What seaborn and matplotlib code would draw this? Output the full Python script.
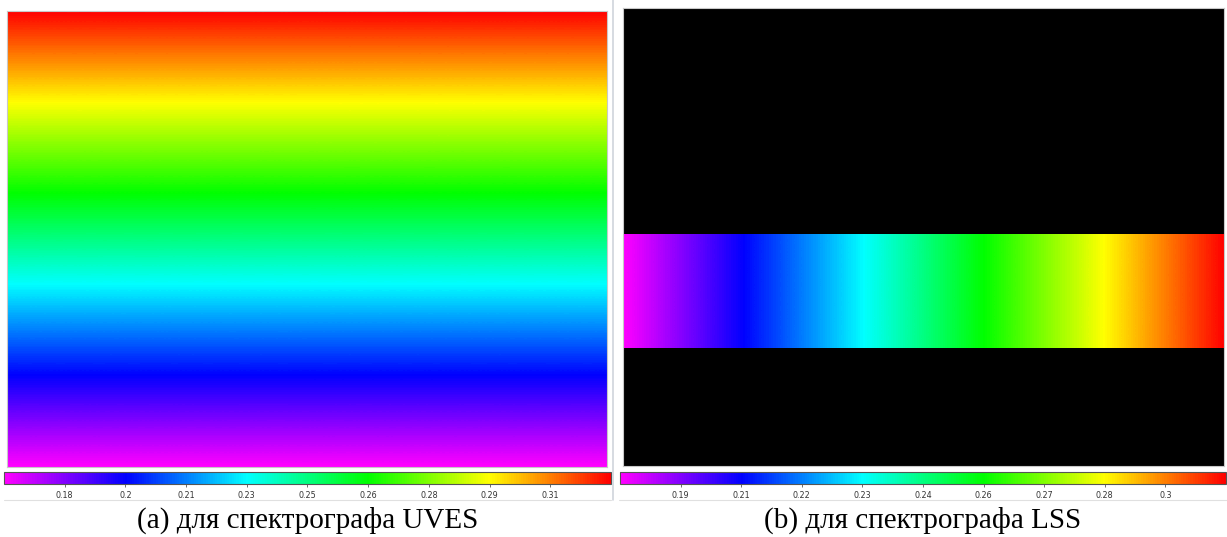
import numpy as np
import matplotlib.pyplot as plt
import seaborn as sns
from matplotlib.lines import Line2D
from matplotlib.ticker import FuncFormatter

# UVES frame: values along the slit, top row to bottom row
uves_values = [0.326, 0.306, 0.286, 0.266, 0.246, 0.226, 0.206, 0.186, 0.166]
uves_range = (0.166, 0.326)

# LSS frame: values along dispersion, left to right, only inside the slit
lss_values = [0.1795, 0.1925, 0.2055, 0.2185, 0.2315, 0.2445,
              0.2575, 0.2705, 0.2835, 0.2965, 0.3095]
lss_range = (0.1795, 0.3095)
lss_rows = 200
lss_slit = (98, 149)

captions = ['(a) для спектрографа UVES', '(b) для спектрографа LSS']
rainbow = ['#ff00ff', '#0000ff', '#00ffff', '#00ff00', '#ffff00', '#ff0000']

sns.set_theme(style='white')
plt.rcParams['font.family'] = ['DejaVu Sans']

cmap = sns.blend_palette(rainbow, n_colors=256, as_cmap=True)
cmap.set_bad('black')

fig = plt.figure(figsize=(12.27, 5.37), dpi=100)

# panel axes: [left, bottom, width, height]
ax_a = fig.add_axes([7 / 1227, 1 - 467 / 537, 600 / 1227, 456 / 537])
ax_b = fig.add_axes([623 / 1227, 1 - 466 / 537, 601 / 1227, 458 / 537])
cax_a = fig.add_axes([4 / 1227, 1 - 484 / 537, 607 / 1227, 12 / 537])
cax_b = fig.add_axes([620 / 1227, 1 - 484 / 537, 606 / 1227, 12 / 537])

uves_frame = np.array(uves_values).reshape(-1, 1)
im_a = ax_a.imshow(uves_frame, cmap=cmap, vmin=uves_range[0], vmax=uves_range[1],
                   aspect='auto', interpolation='bilinear', interpolation_stage='data')
ax_a.set_xlim(-0.5, 0.5)
ax_a.set_ylim(len(uves_values) - 1, 0)

lss_frame = np.full((lss_rows, len(lss_values)), np.nan)
lss_frame[lss_slit[0]:lss_slit[1], :] = lss_values
lss_frame = np.ma.masked_invalid(lss_frame)
im_b = ax_b.imshow(lss_frame, cmap=cmap, vmin=lss_range[0], vmax=lss_range[1],
                   aspect='auto', interpolation='bilinear', interpolation_stage='data')
ax_b.set_facecolor('black')
ax_b.set_xlim(0, len(lss_values) - 1)
ax_b.set_ylim(lss_rows - 0.5, -0.5)

for ax in (ax_a, ax_b):
    ax.set_xticks([])
    ax.set_yticks([])
    for sp in ax.spines.values():
        sp.set_color('#c8c8c8')
        sp.set_linewidth(0.8)

fmt = FuncFormatter(lambda v, p: '{:.2g}'.format(v))
for im, cax, (lo, hi) in ((im_a, cax_a, uves_range), (im_b, cax_b, lss_range)):
    cb = fig.colorbar(im, cax=cax, orientation='horizontal')
    cb.set_ticks(np.linspace(lo, hi, 11)[1:-1])
    cb.ax.xaxis.set_major_formatter(fmt)
    cb.ax.tick_params(axis='x', length=2, width=0.6, color='#555555',
                      labelsize=5.8, labelcolor='#333333', pad=3, bottom=True)
    cb.outline.set_edgecolor('#555555')
    cb.outline.set_linewidth(0.8)

# thin separators like in the source layout
fig.add_artist(Line2D([613 / 1227, 613 / 1227], [1 - 500 / 537, 1], color='#d0d4dc', lw=1.2))
fig.add_artist(Line2D([4 / 1227, 611 / 1227], [1 - 500 / 537] * 2, color='#e0e0e0', lw=0.8))
fig.add_artist(Line2D([619 / 1227, 1], [1 - 500 / 537] * 2, color='#e0e0e0', lw=0.8))

for cx, text in zip((308 / 1227, 923 / 1227), captions):
    fig.text(cx, 1 - 520 / 537, text, ha='center', va='center', fontsize=21,
             family=['Liberation Serif', 'DejaVu Serif'], color='black')

fig.savefig('out.png', dpi=100)
